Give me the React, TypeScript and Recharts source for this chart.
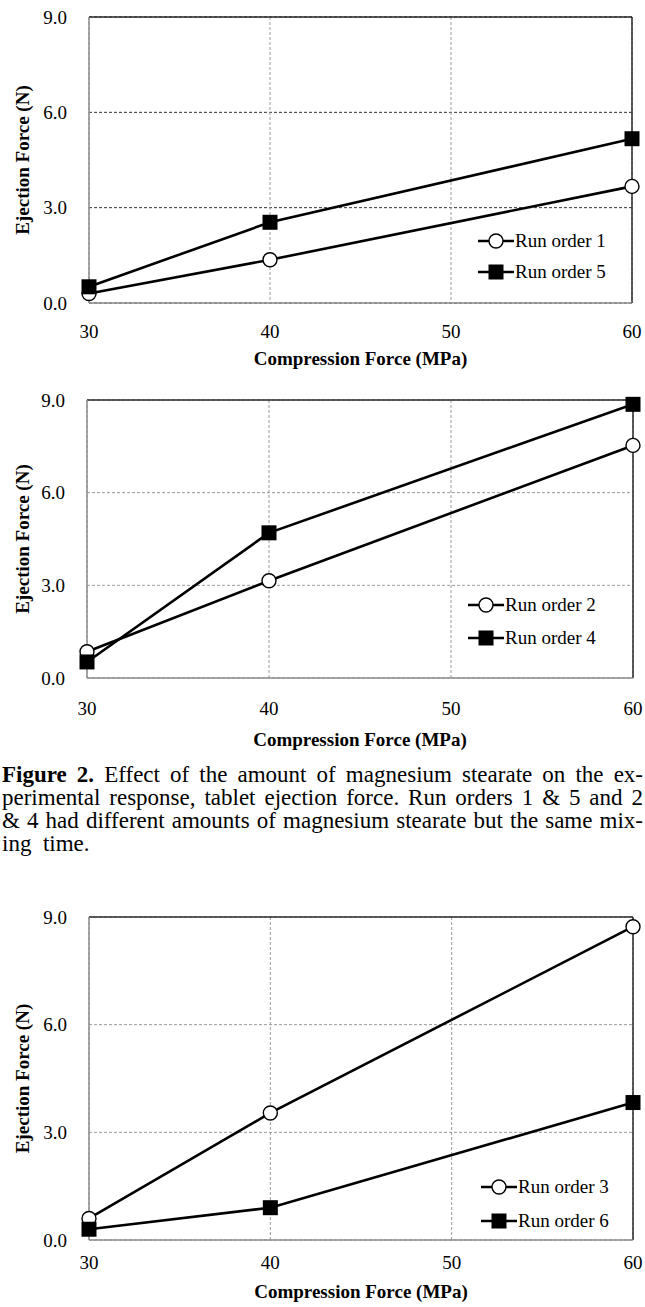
import React from 'react';
import { LineChart, Line, XAxis, YAxis, CartesianGrid, ReferenceLine } from 'recharts';

const compressionForce = [30, 40, 60];
const xTicks = [30, 40, 50, 60];
const yTicks = [0, 3, 6, 9];

const runOrder1 = [0.3, 1.36, 3.67];
const runOrder5 = [0.51, 2.54, 5.17];
const runOrder2 = [0.85, 3.15, 7.53];
const runOrder4 = [0.52, 4.7, 8.86];
const runOrder3 = [0.6, 3.54, 8.73];
const runOrder6 = [0.3, 0.9, 3.83];

const FONT = '"Liberation Serif", "Times New Roman", serif';

type ChartCfg = {
  top: number;
  height: number;
  plotTop: number;
  plotBottom: number;
  plotLeft: number;
  plotRight: number;
  xTickMargin: number;
  xTitleOffset: number;
  legendLeft: number;
  legendTop: number;
  rowH: number;
  hGridColor: string;
  vGridColor: string;
  openName: string;
  filledName: string;
  open: number[];
  filled: number[];
};

const CircleDot = (props: any) => {
  const { cx, cy, index } = props;
  if (cx == null || cy == null) return <g key={`c${index}`} />;
  return <circle key={`c${index}`} cx={cx} cy={cy} r={7} fill="#fff" stroke="#000" strokeWidth={1.4} />;
};

const SquareDot = (props: any) => {
  const { cx, cy, index } = props;
  if (cx == null || cy == null) return <g key={`s${index}`} />;
  return <rect key={`s${index}`} x={cx - 7.5} y={cy - 7.5} width={15} height={15} fill="#000" />;
};

const YTitle = (props: any) => {
  const vb = props.viewBox;
  const cx = 22;
  const cy = vb.y + vb.height / 2;
  return (
    <text x={cx} y={cy} transform={`rotate(-90 ${cx} ${cy})`} textAnchor="middle" dominantBaseline="central"
      style={{ fontFamily: FONT, fontSize: 19, fontWeight: 'bold', fill: '#000' }}>
      Ejection Force (N)
    </text>
  );
};

const makeXTitle = (offset: number) => (props: any) => {
  const vb = props.viewBox;
  return (
    <text x={vb.x + vb.width / 2} y={vb.y + offset} textAnchor="middle" dominantBaseline="central"
      style={{ fontFamily: FONT, fontSize: 19, fontWeight: 'bold', fill: '#000' }}>
      Compression Force (MPa)
    </text>
  );
};

const ChartLegend = ({ cfg }: { cfg: ChartCfg }) => {
  const items = [cfg.openName, cfg.filledName];
  return (
    <div style={{ position: 'absolute', left: cfg.legendLeft, top: cfg.legendTop, fontFamily: FONT, fontSize: 19, color: '#000' }}>
      {items.map((name, i) => (
        <div key={i} style={{ display: 'flex', alignItems: 'center', height: cfg.rowH, whiteSpace: 'nowrap' }}>
          <svg width={36} height={20} style={{ marginRight: 1, display: 'block' }}>
            <line x1={0} y1={10} x2={36} y2={10} stroke="#000" strokeWidth={2.5} />
            {i === 0 ? (
              <circle cx={18} cy={10} r={7} fill="#fff" stroke="#000" strokeWidth={1.4} />
            ) : (
              <rect x={10.5} y={2.5} width={15} height={15} fill="#000" />
            )}
          </svg>
          <span style={{ fontFamily: FONT }}>{name}</span>
        </div>
      ))}
    </div>
  );
};

const Chart = ({ cfg }: { cfg: ChartCfg }) => {
  const data = compressionForce.map((x, i) => ({ x, open: cfg.open[i], filled: cfg.filled[i] }));
  const tickStyle = { fontFamily: FONT, fontSize: 19, fill: '#000' };
  const xAxisH = cfg.height - cfg.plotBottom;
  return (
    <div style={{ position: 'absolute', left: 0, top: cfg.top, width: 645, height: cfg.height }}>
      <LineChart width={645} height={cfg.height} data={data} style={{ overflow: 'visible' }}
        margin={{ top: cfg.plotTop, right: 645 - cfg.plotRight, left: 0, bottom: 0 }}>
        <CartesianGrid horizontal={true} vertical={false} stroke={cfg.hGridColor} strokeDasharray="3 2" strokeWidth={1} />
        <CartesianGrid horizontal={false} vertical={true} stroke={cfg.vGridColor} strokeDasharray="3 2" strokeWidth={1} />
        <XAxis dataKey="x" type="number" domain={[30, 60]} ticks={xTicks} tickSize={0}
          tickMargin={cfg.xTickMargin} height={xAxisH} tick={tickStyle}
          axisLine={{ stroke: '#8c8c8c', strokeWidth: 1.5 }} tickLine={false}
          label={{ content: makeXTitle(cfg.xTitleOffset) } as any} />
        <YAxis type="number" domain={[0, 9]} ticks={yTicks} tickSize={0} tickMargin={22}
          width={cfg.plotLeft} tick={tickStyle} tickFormatter={(v: number) => v.toFixed(1)}
          axisLine={{ stroke: '#8c8c8c', strokeWidth: 1.5 }} tickLine={false}
          label={{ content: YTitle } as any} />
        <ReferenceLine y={9} stroke="#2a2a2a" strokeWidth={1.5} />
        <ReferenceLine x={60} stroke="#2a2a2a" strokeWidth={1.5} />
        <Line name={cfg.openName} dataKey="open" type="linear" stroke="#000" strokeWidth={2.6}
          dot={CircleDot} activeDot={false} isAnimationActive={false} />
        <Line name={cfg.filledName} dataKey="filled" type="linear" stroke="#000" strokeWidth={2.6}
          dot={SquareDot} activeDot={false} isAnimationActive={false} />
      </LineChart>
      <ChartLegend cfg={cfg} />
    </div>
  );
};

const chart1: ChartCfg = {
  top: 0, height: 380, plotTop: 17, plotBottom: 303, plotLeft: 89, plotRight: 632,
  xTickMargin: 22, xTitleOffset: 55,
  legendLeft: 478, legendTop: 225, rowH: 31,
  hGridColor: '#333', vGridColor: '#9a9a9a',
  openName: 'Run order 1', filledName: 'Run order 5', open: runOrder1, filled: runOrder5,
};

const chart2: ChartCfg = {
  top: 355, height: 405, plotTop: 45, plotBottom: 323, plotLeft: 87, plotRight: 633,
  xTickMargin: 24, xTitleOffset: 61,
  legendLeft: 468, legendTop: 233, rowH: 33,
  hGridColor: '#9a9a9a', vGridColor: '#9a9a9a',
  openName: 'Run order 2', filledName: 'Run order 4', open: runOrder2, filled: runOrder4,
};

const chart3: ChartCfg = {
  top: 900, height: 407, plotTop: 17, plotBottom: 340, plotLeft: 89, plotRight: 633,
  xTickMargin: 16, xTitleOffset: 51,
  legendLeft: 481, legendTop: 270, rowH: 34,
  hGridColor: '#9a9a9a', vGridColor: '#9a9a9a',
  openName: 'Run order 3', filledName: 'Run order 6', open: runOrder3, filled: runOrder6,
};

const captionLines = [
  'Effect of the amount of magnesium stearate on the ex-',
  'perimental response, tablet ejection force. Run orders 1 & 5 and 2',
  '& 4 had different amounts of magnesium stearate but the same mix-',
  'ing\u00a0 time.',
];

const Caption = () => {
  const lineStyle: React.CSSProperties = {
    height: 23, lineHeight: '23px', textAlign: 'justify', textAlignLast: 'justify', whiteSpace: 'normal',
  };
  return (
    <div style={{ position: 'absolute', left: 2, top: 763, width: 641, fontFamily: FONT, fontSize: 23, color: '#000' }}>
      <div style={lineStyle}><b>Figure 2.</b> {captionLines[0]}</div>
      <div style={lineStyle}>{captionLines[1]}</div>
      <div style={lineStyle}>{captionLines[2]}</div>
      <div style={{ ...lineStyle, textAlign: 'left', textAlignLast: 'left' }}>{captionLines[3]}</div>
    </div>
  );
};

export default function App() {
  return (
    <div style={{ position: 'absolute', left: 0, top: 0, width: 645, height: 1307, background: '#fff', overflow: 'hidden' }}>
      <Chart cfg={chart1} />
      <Chart cfg={chart2} />
      <Caption />
      <Chart cfg={chart3} />
    </div>
  );
}
